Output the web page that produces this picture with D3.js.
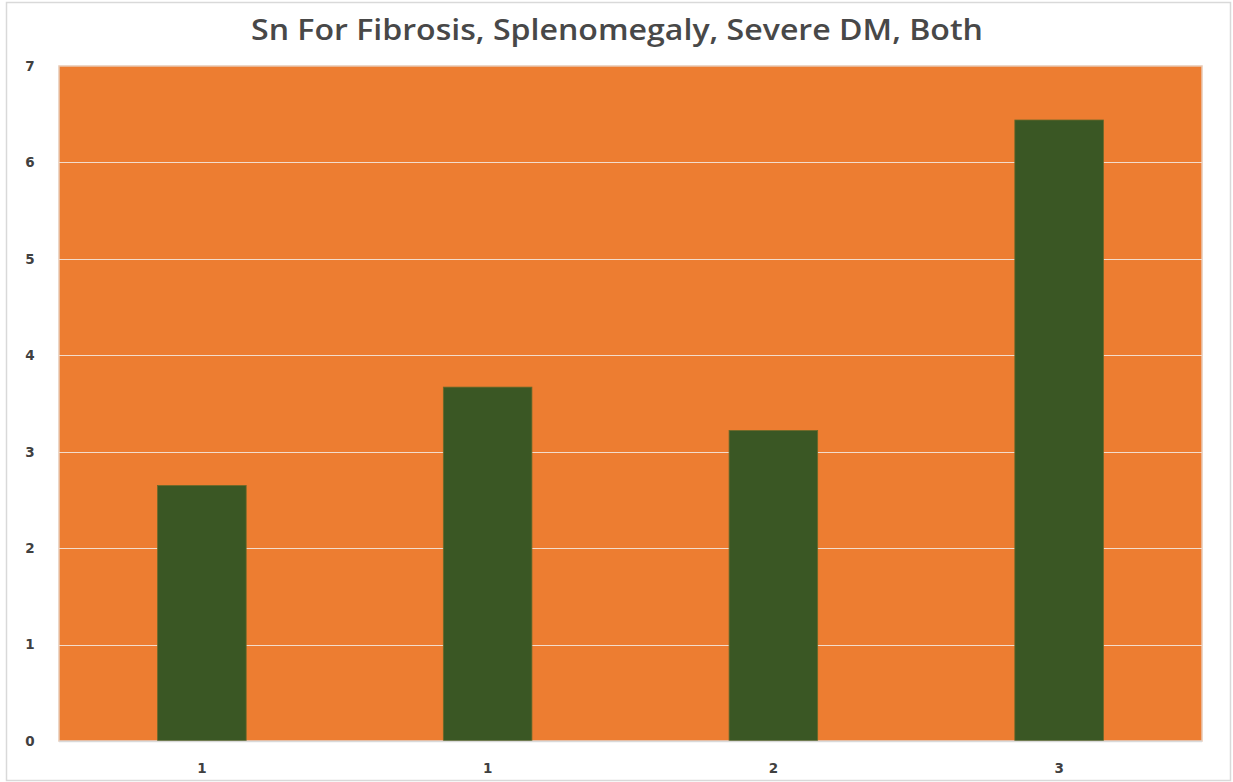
<!DOCTYPE html>
<html>
<head>
<meta charset="utf-8">
<script src="https://cdn.jsdelivr.net/npm/d3@7"></script>
<style>
  html, body { margin: 0; padding: 0; background: #fff; }
  svg { display: block; }
</style>
</head>
<body>
<svg id="chart" width="1233" height="782"></svg>
<script>
// Chart data
const title = "Sn For Fibrosis, Splenomegaly, Severe DM, Both";
const categories = ["1", "1", "2", "3"];
const values = [2.65, 3.67, 3.22, 6.44];
const yTicks = [0, 1, 2, 3, 4, 5, 6, 7];

const W = 1233, H = 782;
const margin = { left: 59, right: 31, top: 66, bottom: 41 };
const svg = d3.select("#chart");

// Outer chart frame
svg.append("rect")
  .attr("x", 6.5).attr("y", 2.5)
  .attr("width", W - 9).attr("height", H - 4)
  .attr("fill", "#fff").attr("stroke", "#d9d9d9").attr("stroke-width", 1.5);

const x = d3.scaleBand()
  .domain(categories.map((d, i) => i))
  .range([margin.left, W - margin.right])
  .paddingInner(0.69).paddingOuter(0.345);

const y = d3.scaleLinear()
  .domain([0, 7])
  .range([H - margin.bottom, margin.top]);

// Plot area background
svg.append("rect")
  .attr("x", margin.left).attr("y", margin.top)
  .attr("width", W - margin.left - margin.right)
  .attr("height", H - margin.top - margin.bottom)
  .attr("fill", "#ED7D31")
  .attr("stroke", "#e8c9b4").attr("stroke-width", 1.5);

// Horizontal gridlines
svg.append("g")
  .selectAll("line")
  .data(yTicks.filter(t => t > 0 && t < 7))
  .join("line")
  .attr("x1", margin.left).attr("x2", W - margin.right)
  .attr("y1", d => Math.round(y(d)) + 0.5).attr("y2", d => Math.round(y(d)) + 0.5)
  .attr("stroke", "#f3dccb").attr("stroke-width", 1);

// Bars
svg.append("g")
  .selectAll("rect")
  .data(values)
  .join("rect")
  .attr("x", (d, i) => x(i))
  .attr("y", d => y(d))
  .attr("width", x.bandwidth())
  .attr("height", d => y(0) - y(d))
  .attr("fill", "#3A5724")
  .attr("stroke", "#6b6a2a").attr("stroke-width", 0.8);

// Baseline
svg.append("line")
  .attr("x1", margin.left).attr("x2", W - margin.right)
  .attr("y1", y(0) + 0.5).attr("y2", y(0) + 0.5)
  .attr("stroke", "#d9d9d9").attr("stroke-width", 1.5);

// Y axis labels
const yAxis = d3.axisLeft(y).tickValues(yTicks).tickSize(0).tickPadding(29).tickFormat(d3.format("d"));
const gy = svg.append("g").attr("transform", `translate(${margin.left},0)`).call(yAxis);
gy.select(".domain").remove();
gy.selectAll("text")
  .attr("text-anchor", "middle")
  .attr("font-family", "'DejaVu Sans', sans-serif")
  .attr("font-size", 13.5).attr("font-weight", "bold")
  .attr("fill", "#404040");

// X axis labels
const xAxis = d3.axisBottom(x).tickSize(0).tickPadding(22).tickFormat(i => categories[i]);
const gx = svg.append("g").attr("transform", `translate(0,${H - margin.bottom})`).call(xAxis);
gx.select(".domain").remove();
gx.selectAll("text")
  .attr("font-family", "'DejaVu Sans', sans-serif")
  .attr("font-size", 13.5).attr("font-weight", "bold")
  .attr("fill", "#404040");

// Title
svg.append("text")
  .attr("x", 617).attr("y", 40)
  .attr("text-anchor", "middle")
  .attr("font-family", "'Open Sans', 'Liberation Sans', sans-serif")
  .attr("font-size", 28).attr("font-weight", 600)
  .attr("textLength", 732).attr("lengthAdjust", "spacingAndGlyphs")
  .attr("fill", "#484848")
  .text(title);
</script>
</body>
</html>
